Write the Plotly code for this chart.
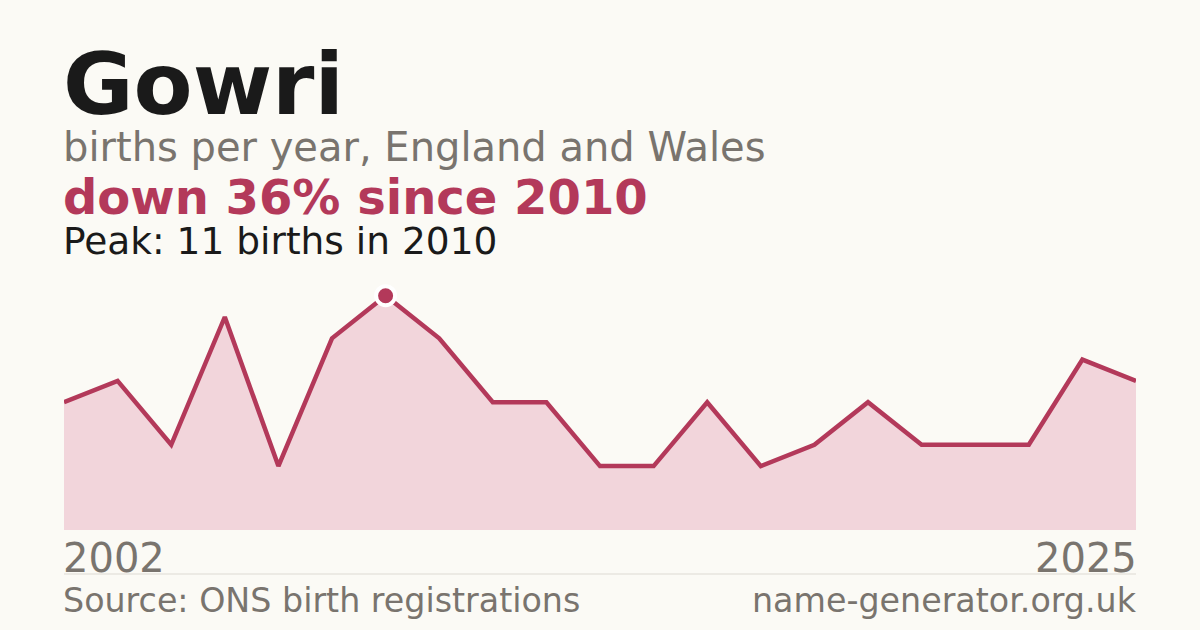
import plotly.graph_objects as go

# births per year (years with fewer than 3 births are not published)
years = [2002, 2003, 2004, 2006, 2007, 2009, 2010, 2011, 2012, 2013, 2014,
         2015, 2016, 2017, 2018, 2019, 2021, 2022, 2023, 2024, 2025]
births = [6, 7, 4, 10, 3, 9, 11, 9, 6, 6, 3, 3, 6, 3, 4, 6, 4, 4, 4, 8, 7]

peak_i = births.index(max(births))
idx = list(range(len(years)))

RED = "#b3395a"
GREY = "#79746e"
FONT = "DejaVu Sans"

fig = go.Figure()
fig.add_trace(go.Scatter(
    x=idx, y=births, mode="lines", fill="tozeroy",
    fillcolor="#f2d5db", line=dict(color=RED, width=4.5),
    customdata=years, hovertemplate="%{customdata}: %{y}<extra></extra>",
))
fig.add_trace(go.Scatter(
    x=[idx[peak_i]], y=[births[peak_i]], mode="markers",
    marker=dict(color=RED, size=19, line=dict(color="white", width=4)),
    hoverinfo="skip",
))

# pixel layout helpers: plot area spans y=270..530
top, bottom = 270, 530
def py(px):
    return (bottom - px) / (bottom - top)

def label(text, x, xanchor, px_bottom, size, color, bold=False):
    fig.add_annotation(
        text=f"<b>{text}</b>" if bold else text,
        xref="paper", yref="paper", x=x, y=py(px_bottom),
        xanchor=xanchor, yanchor="bottom", showarrow=False,
        xshift=-2 if xanchor == "left" else 2, borderpad=0,
        font=dict(family=FONT, size=size, color=color),
    )

label("Gowri", 0, "left", 135, 86, "#1a1a1a", bold=True)
label("births per year, England and Wales", 0, "left", 171, 40, GREY)
label("down 36% since 2010", 0, "left", 226, 48, RED, bold=True)
label(f"Peak: {births[peak_i]} births in {years[peak_i]}", 0, "left", 264, 37.5, "#1a1a1a")
label(str(years[0]), 0, "left", 582, 40, GREY)
label(str(years[-1]), 1, "right", 582, 40, GREY)
label("Source: ONS birth registrations", 0, "left", 621, 33.3, GREY)
label("name-generator.org.uk", 1, "right", 621, 33.3, GREY)

fig.add_shape(type="line", xref="paper", yref="paper", x0=0, x1=1,
              y0=py(574), y1=py(574), line=dict(color="#dddad3", width=1))

fig.update_layout(
    width=1200, height=630,
    margin=dict(l=64, r=64, t=top, b=630 - bottom),
    paper_bgcolor="#fbfaf5", plot_bgcolor="#fbfaf5",
    showlegend=False,
    xaxis=dict(range=[0, len(years) - 1], visible=False, fixedrange=True),
    yaxis=dict(range=[0, (bottom - top) / 21.3], visible=False, fixedrange=True),
)

fig.write_html("out.html", config={"displayModeBar": False},
               post_script="document.body.style.margin='0';"
                           "document.body.style.background='#fbfaf5';")
